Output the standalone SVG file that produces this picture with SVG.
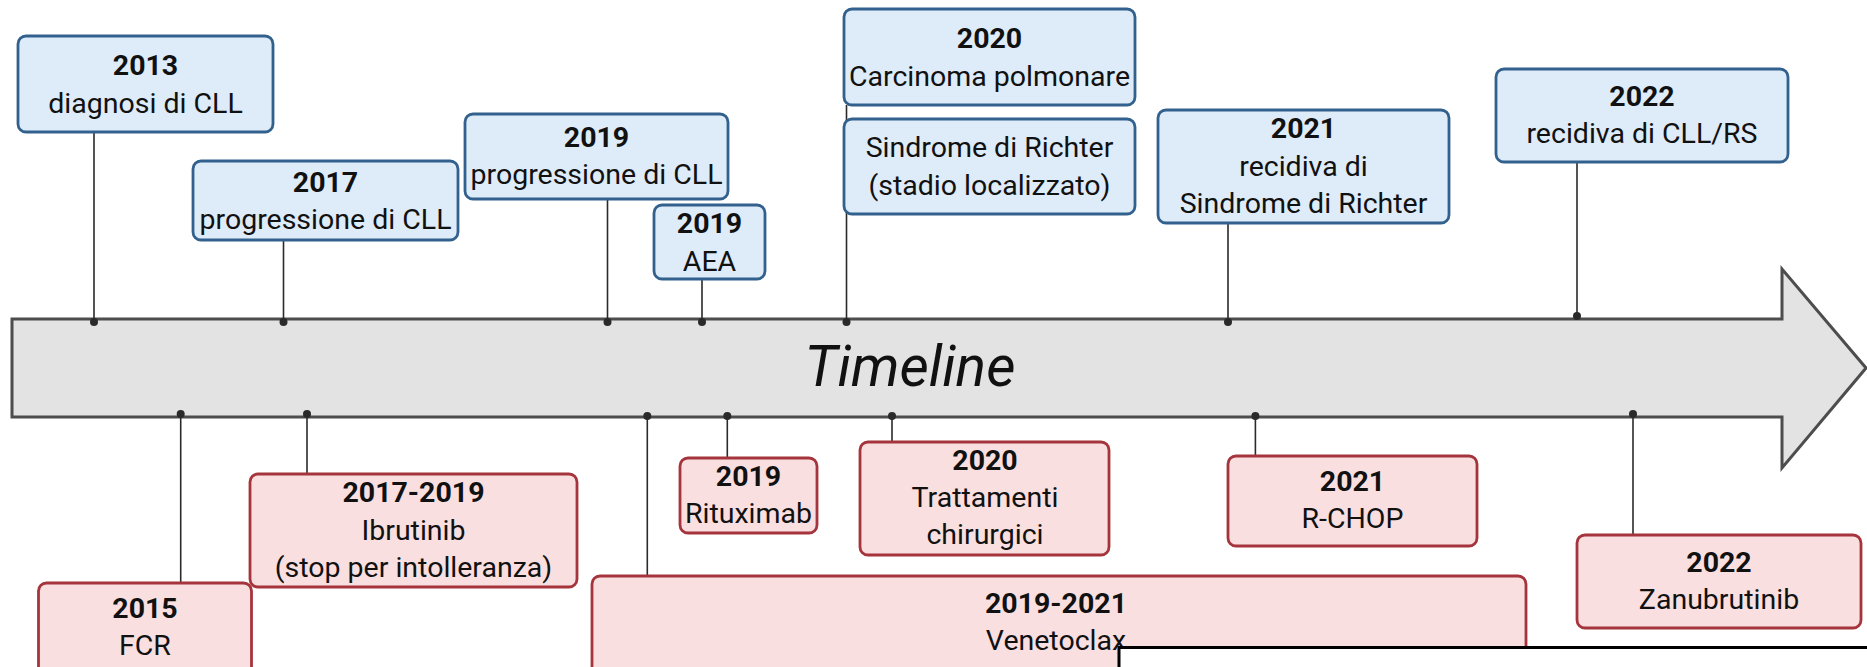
<svg xmlns="http://www.w3.org/2000/svg" width="1867" height="667" viewBox="0 0 1867 667">
<style>
text{font-family:Roboto,"Liberation Sans",sans-serif;font-size:28.5px;fill:#111;text-anchor:middle}
.y{font-weight:bold}
.b{fill:#deebf8;stroke:#33618e;stroke-width:2.8}
.r{fill:#f9dfe0;stroke:#a6343d;stroke-width:2.8}
.c line{stroke:#2a2a2a;stroke-width:1.6}
.c circle{fill:#2a2a2a}
</style>
<rect width="1867" height="667" fill="#fff"/>
<g id="timeline">
<path d="M12,319 H1782 V269 L1866,368 L1782,468 V417 H12 Z" fill="#e3e3e3" stroke="#4d4d4d" stroke-width="3" stroke-linejoin="miter"/>
<text x="910" y="386" style="font-size:57px;font-style:italic;fill:#111">Timeline</text>
</g>
<g class="c" id="connectors">
<line x1="94" y1="132" x2="94" y2="322"/><circle cx="94" cy="322" r="4"/>
<line x1="283.5" y1="240" x2="283.5" y2="322"/><circle cx="283.5" cy="322" r="4"/>
<line x1="607.5" y1="199" x2="607.5" y2="322"/><circle cx="607.5" cy="322" r="4"/>
<line x1="702" y1="279" x2="702" y2="322"/><circle cx="702" cy="322" r="4"/>
<line x1="846.5" y1="105" x2="846.5" y2="322"/><circle cx="846.5" cy="322" r="4"/>
<line x1="1228" y1="223" x2="1228" y2="322"/><circle cx="1228" cy="322" r="4"/>
<line x1="1577" y1="162" x2="1577" y2="316"/><circle cx="1577" cy="316" r="4"/>
<line x1="180.7" y1="414" x2="180.7" y2="583"/><circle cx="180.7" cy="414" r="4"/>
<line x1="307" y1="414" x2="307" y2="474"/><circle cx="307" cy="414" r="4"/>
<line x1="647.3" y1="416" x2="647.3" y2="576"/><circle cx="647.3" cy="416" r="4"/>
<line x1="727.3" y1="416" x2="727.3" y2="458"/><circle cx="727.3" cy="416" r="4"/>
<line x1="892" y1="416" x2="892" y2="442"/><circle cx="892" cy="416" r="4"/>
<line x1="1255.4" y1="416" x2="1255.4" y2="456"/><circle cx="1255.4" cy="416" r="4"/>
<line x1="1633" y1="414" x2="1633" y2="535"/><circle cx="1633" cy="414" r="4"/>
</g>
<g id="n2013"><rect class="b" x="18" y="36" width="255" height="96" rx="8"/><text class="y" x="145.5" y="75">2013</text><text x="145.5" y="113">diagnosi di CLL</text></g>
<g id="n2017"><rect class="b" x="193" y="161" width="265" height="79" rx="8"/><text class="y" x="325.5" y="192">2017</text><text x="325.5" y="229">progressione di CLL</text></g>
<g id="n2019p"><rect class="b" x="465" y="114" width="263" height="85" rx="8"/><text class="y" x="596.5" y="147">2019</text><text x="596.5" y="184">progressione di CLL</text></g>
<g id="n2019aea"><rect class="b" x="654" y="205" width="111" height="74" rx="8"/><text class="y" x="709.5" y="233">2019</text><text x="709.5" y="271">AEA</text></g>
<g id="n2020c"><rect class="b" x="844" y="9" width="291" height="96" rx="8"/><text class="y" x="989.5" y="48">2020</text><text x="989.5" y="86">Carcinoma polmonare</text></g>
<g id="n2020rs"><rect class="b" x="844" y="119" width="291" height="95" rx="8"/><text x="989.5" y="157">Sindrome di Richter</text><text x="989.5" y="195">(stadio localizzato)</text></g>
<g id="n2021"><rect class="b" x="1158" y="110" width="291" height="113" rx="8"/><text class="y" x="1303.5" y="138">2021</text><text x="1303.5" y="176">recidiva di</text><text x="1303.5" y="213">Sindrome di Richter</text></g>
<g id="n2022"><rect class="b" x="1496" y="69" width="292" height="93" rx="8"/><text class="y" x="1642" y="106">2022</text><text x="1642" y="143">recidiva di CLL/RS</text></g>
<g id="t2015"><rect class="r" x="38.5" y="583" width="213" height="110" rx="8"/><text class="y" x="145" y="618">2015</text><text x="145" y="655">FCR</text></g>
<g id="t2017"><rect class="r" x="250" y="474" width="327" height="113" rx="8"/><text class="y" x="413.5" y="502">2017-2019</text><text x="413.5" y="540">Ibrutinib</text><text x="413.5" y="577">(stop per intolleranza)</text></g>
<g id="tven"><rect class="r" x="592" y="576" width="934" height="120" rx="8"/><text class="y" x="1056" y="613">2019-2021</text><text x="1056" y="650">Venetoclax</text></g>
<g id="trit"><rect class="r" x="680" y="458" width="137" height="75" rx="8"/><text class="y" x="748.5" y="486">2019</text><text x="748.5" y="523">Rituximab</text></g>
<g id="t2020"><rect class="r" x="860" y="442" width="249" height="113" rx="8"/><text class="y" x="985" y="470">2020</text><text x="985" y="507">Trattamenti</text><text x="985" y="544">chirurgici</text></g>
<g id="t2021"><rect class="r" x="1228" y="456" width="249" height="90" rx="8"/><text class="y" x="1352.5" y="491">2021</text><text x="1352.5" y="528">R-CHOP</text></g>
<g id="t2022"><rect class="r" x="1577" y="535" width="284" height="93" rx="8"/><text class="y" x="1719" y="572">2022</text><text x="1719" y="609">Zanubrutinib</text></g>
<rect x="1119" y="647.5" width="760" height="40" fill="#fff" stroke="#000" stroke-width="3"/>
</svg>
